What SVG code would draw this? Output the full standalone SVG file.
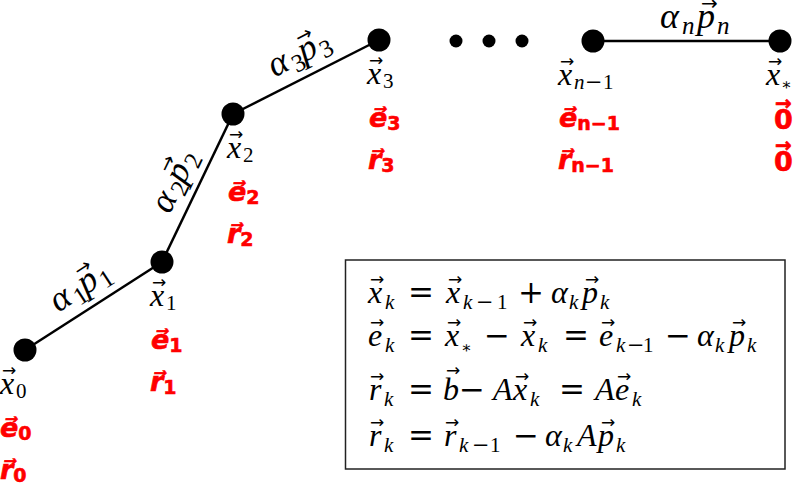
<svg xmlns="http://www.w3.org/2000/svg" width="800" height="487" viewBox="0 0 800 487">
<style>
.m{font-family:"Liberation Serif",serif;font-size:32px;font-style:italic;fill:#000}
.lbl{font-size:36px}
.u{font-style:normal}
.op{font-family:"DejaVu Serif",serif;font-style:normal;font-size:31px}
.s{font-size:21px}
.ls{font-size:25px}
.st{font-family:"DejaVu Serif",serif;font-style:normal;font-size:16px}
.ar{font-family:"DejaVu Sans",sans-serif;font-size:17px;font-style:normal}
.lar{font-family:"DejaVu Sans",sans-serif;font-size:20px;font-style:normal}
.red{font-family:"DejaVu Sans",sans-serif;font-weight:bold;font-size:27px;fill:#f00;stroke:#f00;stroke-width:0.6}
.ri{font-style:italic}
.rs{font-size:19px;font-style:normal}
.rar{font-size:20px;font-style:normal}
.dot{fill:#000}
.edge{stroke:#000;stroke-width:2.5;fill:none}
.box{fill:#fff;stroke:#222;stroke-width:1.5}
</style>
<rect width="800" height="487" fill="#fff"/>
<g id="connectors">
<line class="edge" x1="25" y1="350" x2="162" y2="262"/>
<line class="edge" x1="162" y1="262" x2="233" y2="114"/>
<line class="edge" x1="233" y1="114" x2="379" y2="40"/>
<line class="edge" x1="593" y1="41" x2="780" y2="41"/>
<text class="m lbl" transform="translate(85 295.5) rotate(-33.2)"><tspan x="-32" y="0">α</tspan><tspan class="u ls" x="-10" y="6">1</tspan><tspan x="1" y="0">p</tspan><tspan class="lar" x="5" y="-18">→</tspan><tspan class="u ls" x="21" y="6">1</tspan></text>
<text class="m lbl" transform="translate(183.5 186) rotate(-64.4)"><tspan x="-32" y="0">α</tspan><tspan class="u ls" x="-10" y="6">2</tspan><tspan x="1" y="0">p</tspan><tspan class="lar" x="5" y="-18">→</tspan><tspan class="u ls" x="21" y="6">2</tspan></text>
<text class="m lbl" transform="translate(303 63) rotate(-26.9)"><tspan x="-32" y="0">α</tspan><tspan class="u ls" x="-10" y="6">3</tspan><tspan x="1" y="0">p</tspan><tspan class="lar" x="5" y="-18">→</tspan><tspan class="u ls" x="21" y="6">3</tspan></text>
<text class="m lbl"><tspan x="660" y="28">α</tspan><tspan class="ls" x="682" y="34">n</tspan><tspan x="697" y="28">p</tspan><tspan class="lar" x="701" y="10">→</tspan><tspan class="ls" x="717" y="34">n</tspan></text>
</g>
<g id="node-x0">
<circle class="dot" cx="25" cy="350" r="11.5"/>
<text class="m" x="0" y="394">x<tspan class="ar" x="2" y="376">→</tspan><tspan class="u s" x="16" y="398">0</tspan></text>
<text class="red" x="0" y="437"><tspan class="ri">e⃗</tspan><tspan class="rs" dy="3">0</tspan></text>
<text class="red" x="0" y="479"><tspan class="ri">r⃗</tspan><tspan class="rs" dy="3">0</tspan></text>
</g>
<g id="node-x1">
<circle class="dot" cx="162" cy="262" r="11.5"/>
<text class="m" x="150" y="306">x<tspan class="ar" x="152" y="288">→</tspan><tspan class="u s" x="166" y="310">1</tspan></text>
<text class="red" x="151" y="349"><tspan class="ri">e⃗</tspan><tspan class="rs" dy="3">1</tspan></text>
<text class="red" x="150" y="391"><tspan class="ri">r⃗</tspan><tspan class="rs" dy="3">1</tspan></text>
</g>
<g id="node-x2">
<circle class="dot" cx="233" cy="114" r="11.5"/>
<text class="m" x="227" y="158">x<tspan class="ar" x="229" y="140">→</tspan><tspan class="u s" x="243" y="162">2</tspan></text>
<text class="red" x="228" y="201"><tspan class="ri">e⃗</tspan><tspan class="rs" dy="3">2</tspan></text>
<text class="red" x="227" y="243"><tspan class="ri">r⃗</tspan><tspan class="rs" dy="3">2</tspan></text>
</g>
<g id="node-x3">
<circle class="dot" cx="379" cy="40" r="11.5"/>
<text class="m" x="367" y="84">x<tspan class="ar" x="369" y="66">→</tspan><tspan class="u s" x="383" y="88">3</tspan></text>
<text class="red" x="369" y="127"><tspan class="ri">e⃗</tspan><tspan class="rs" dy="3">3</tspan></text>
<text class="red" x="368" y="169"><tspan class="ri">r⃗</tspan><tspan class="rs" dy="3">3</tspan></text>
</g>
<g id="ellipsis">
<circle class="dot" cx="456" cy="41" r="6.5"/>
<circle class="dot" cx="489" cy="41" r="6.5"/>
<circle class="dot" cx="522" cy="41" r="6.5"/>
</g>
<g id="node-xn1">
<circle class="dot" cx="593" cy="41" r="11.5"/>
<text class="m" x="558" y="85">x<tspan class="ar" x="560" y="67">→</tspan><tspan class="s" x="574" y="89">n</tspan><tspan class="op s" x="585">−</tspan><tspan class="u s" x="603">1</tspan></text>
<text class="red" x="559" y="127"><tspan class="ri">e⃗</tspan><tspan class="rs ri" dy="3">n</tspan><tspan class="rs">−1</tspan></text>
<text class="red" x="558" y="169"><tspan class="ri">r⃗</tspan><tspan class="rs ri" dy="3">n</tspan><tspan class="rs">−1</tspan></text>
</g>
<g id="node-xstar">
<circle class="dot" cx="780" cy="41" r="11.5"/>
<text class="m" x="766" y="85">x<tspan class="ar" x="768" y="67">→</tspan><tspan class="st" x="781" y="90">∗</tspan></text>
<text class="red" x="774" y="129">0<tspan class="rar" x="775" y="110">→</tspan></text>
<text class="red" x="774" y="171">0<tspan class="rar" x="775" y="152">→</tspan></text>
</g>
<g id="formula-box">
<rect class="box" x="345.5" y="260" width="439.5" height="209"/>
<text class="m" y="303"><tspan x="368">x</tspan><tspan class="ar" x="370" y="285">→</tspan><tspan class="s" x="385" y="309">k</tspan><tspan class="op" x="408" y="303">=</tspan><tspan x="446">x</tspan><tspan class="ar" x="448" y="285">→</tspan><tspan class="s" x="463" y="309">k</tspan><tspan class="op s" x="476">−</tspan><tspan class="u s" x="497">1</tspan><tspan class="op" x="518" y="303">+</tspan><tspan x="551">α</tspan><tspan class="s" x="569" y="309">k</tspan><tspan x="582" y="303">p</tspan><tspan class="ar" x="585" y="285">→</tspan><tspan class="s" x="600" y="309">k</tspan></text>
<text class="m" y="346"><tspan x="368">e</tspan><tspan class="ar" x="370" y="328">→</tspan><tspan class="s" x="385" y="352">k</tspan><tspan class="op" x="408" y="346">=</tspan><tspan x="445">x</tspan><tspan class="ar" x="447" y="328">→</tspan><tspan class="st" x="461" y="353">∗</tspan><tspan class="op" x="484" y="346">−</tspan><tspan x="521">x</tspan><tspan class="ar" x="523" y="328">→</tspan><tspan class="s" x="538" y="352">k</tspan><tspan class="op" x="563" y="346">=</tspan><tspan x="599">e</tspan><tspan class="ar" x="601" y="328">→</tspan><tspan class="s" x="616" y="352">k</tspan><tspan class="op s" x="627">−</tspan><tspan class="u s" x="643">1</tspan><tspan class="op" x="665" y="346">−</tspan><tspan x="697">α</tspan><tspan class="s" x="715" y="352">k</tspan><tspan x="729" y="346">p</tspan><tspan class="ar" x="732" y="328">→</tspan><tspan class="s" x="747" y="352">k</tspan></text>
<text class="m" y="400"><tspan x="369">r</tspan><tspan class="ar" x="370" y="382">→</tspan><tspan class="s" x="384" y="406">k</tspan><tspan class="op" x="408" y="400">=</tspan><tspan x="443">b</tspan><tspan class="ar" x="446" y="376">→</tspan><tspan class="op" x="459" y="400">−</tspan><tspan x="493">A</tspan><tspan x="513">x</tspan><tspan class="ar" x="515" y="382">→</tspan><tspan class="s" x="530" y="406">k</tspan><tspan class="op" x="559" y="400">=</tspan><tspan x="595">A</tspan><tspan x="615">e</tspan><tspan class="ar" x="617" y="382">→</tspan><tspan class="s" x="632" y="406">k</tspan></text>
<text class="m" y="446"><tspan x="369">r</tspan><tspan class="ar" x="370" y="428">→</tspan><tspan class="s" x="384" y="452">k</tspan><tspan class="op" x="408" y="446">=</tspan><tspan x="444">r</tspan><tspan class="ar" x="445" y="428">→</tspan><tspan class="s" x="459" y="452">k</tspan><tspan class="op s" x="472">−</tspan><tspan class="u s" x="490">1</tspan><tspan class="op" x="513" y="446">−</tspan><tspan x="545">α</tspan><tspan class="s" x="563" y="452">k</tspan><tspan x="577" y="446">A</tspan><tspan x="598">p</tspan><tspan class="ar" x="601" y="428">→</tspan><tspan class="s" x="616" y="452">k</tspan></text>
</g>
</svg>
